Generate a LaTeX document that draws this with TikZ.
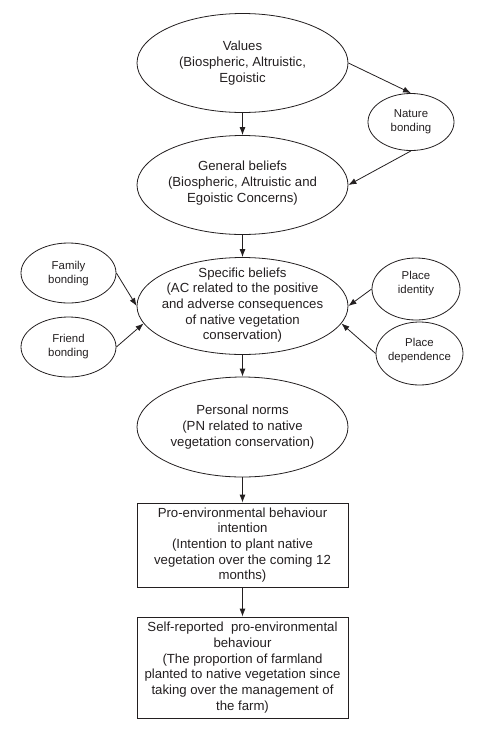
\documentclass[tikz,border=0pt]{standalone}
\usepackage{fontspec}
\setmainfont{Liberation Sans}
\usetikzlibrary{shapes.geometric,arrows.meta}
\definecolor{inkgray}{RGB}{35,31,32}

\begin{document}
\begin{tikzpicture}[x=1pt, y=-1pt, line width=0.8pt, color=inkgray,
  every node/.style={inner sep=0pt},
  bigell/.style={draw, ellipse, minimum width=211pt, minimum height=99pt},
  smallell/.style={draw, ellipse, minimum width=#1},
  box/.style={draw, rectangle, minimum width=211pt},
  txt/.style={align=center, font=\fontsize{13.2}{15.7}\selectfont},
  stxt/.style={align=center, font=\fontsize{11.4}{14}\selectfont},
  arr/.style={-{Latex[length=8pt,width=6pt]}}]
\def\cx{242.5}
\useasboundingbox (0,0) rectangle (490,732);
% main chain
\node[bigell] (val) at (\cx,63) {};
\node[txt] (val-t) at (\cx,63) {Values\\(Biospheric, Altruistic,\\Egoistic};
\node[bigell] (gen) at (\cx,185) {};
\node[txt] (gen-t) at (\cx,183) {General beliefs\\(Biospheric, Altruistic and\\Egoistic Concerns)};
\node[bigell, minimum height=97pt] (spec) at (\cx,306) {};
\node[txt] (spec-t) at (\cx,305) {Specific beliefs\\(AC related to the positive\\and adverse consequences\\of native vegetation\\conservation)};
\node[bigell, minimum height=100pt] (pn) at (\cx,427) {};
\node[txt] (pn-t) at (\cx,427) {Personal norms\\(PN related to native\\vegetation conservation)};
\node[box, minimum height=84pt, txt] (int) at (\cx,545) {Pro-environmental behaviour\\intention\\(Intention to plant native\\vegetation over the coming 12\\months)};
\node[box, minimum height=101pt, txt] (beh) at (\cx,667.5) {Self-reported~ pro-environmental\\behaviour\\(The proportion of farmland\\planted to native vegetation since\\taking over the management of\\the farm)};
% bonding and place nodes
\node[smallell=86pt, minimum height=57pt] (nat) at (411,122) {};
\node[stxt] (nat-t) at (411,122) {Nature\\bonding};
\node[smallell=95pt, minimum height=60pt] (fam) at (68.5,273) {};
\node[stxt] (fam-t) at (68.5,274) {Family\\bonding};
\node[smallell=95pt, minimum height=60pt] (fri) at (68.5,347) {};
\node[stxt] (fri-t) at (68.5,347) {Friend\\bonding};
\node[smallell=88pt, minimum height=62pt] (pid) at (416,289) {};
\node[stxt] (pid-t) at (416,284) {Place\\identity};
\node[smallell=87pt, minimum height=63pt] (pdep) at (419.5,353.5) {};
\node[stxt] (pdep-t) at (419.5,351) {Place\\dependence};
% arrows
\draw[arr] (val) -- (gen);
\draw[arr] (gen) -- (spec);
\draw[arr] (spec) -- (pn);
\draw[arr] (pn) -- (int);
\draw[arr] (int) -- (beh);
\draw[arr] (val.east) -- (nat.north);
\draw[arr] (nat.south) -- (gen.east);
\draw[arr] (fam.east) -- (spec.west);
\draw[arr] (fri.east) -- (spec.190);
\draw[arr] (pid.west) -- (spec.east);
\draw[arr] (pdep.west) -- (spec.350);
\end{tikzpicture}
\end{document}
